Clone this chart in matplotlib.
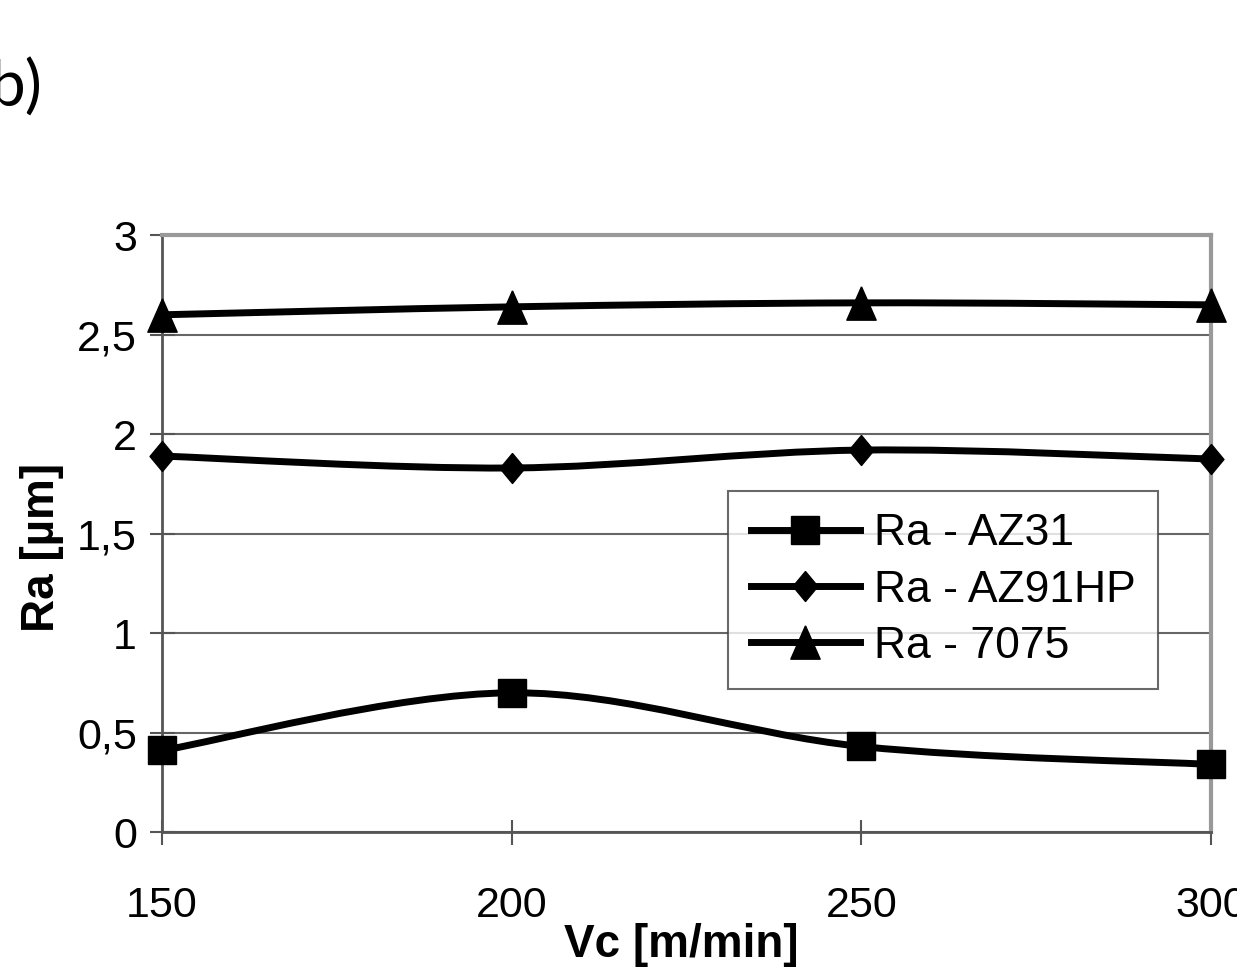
import matplotlib
matplotlib.use("Agg")
import matplotlib.pyplot as plt
from matplotlib.path import Path
from matplotlib.patches import PathPatch
from matplotlib.lines import Line2D

# data
vc = [150, 200, 250, 300]
ra_az31 = [0.41, 0.70, 0.43, 0.34]
ra_az91hp = [1.89, 1.83, 1.92, 1.875]
ra_7075 = [2.60, 2.64, 2.66, 2.65]
series_labels = ["Ra - AZ31", "Ra - AZ91HP", "Ra - 7075"]
y_ticks = [0, 0.5, 1, 1.5, 2, 2.5, 3]
y_tick_labels = ["0", "0,5", "1", "1,5", "2", "2,5", "3"]
x_ticks = [150, 200, 250, 300]

plt.rcParams['font.family'] = ['Liberation Sans', 'DejaVu Sans']

# diamond and triangle shapes like the excel markers
diamond = [(0, 1), (0.83, 0), (0, -1), (-0.83, 0), (0, 1)]
triangle = [(0, 1), (0.88, -1), (-0.88, -1), (0, 1)]
markers = ['s', diamond, triangle]
msizes = [20, 21.6, 24]


def smooth_path(x, y):
    # excel-style smoothed line: cubic bezier between the points
    px = [x[0]] + list(x) + [x[-1]]
    py = [y[0]] + list(y) + [y[-1]]
    verts = [(x[0], y[0])]
    codes = [Path.MOVETO]
    for i in range(1, len(x)):
        a, b = i, i + 1  # indexes in padded lists
        c1 = (px[a] + (px[b] - px[a - 1]) / 6, py[a] + (py[b] - py[a - 1]) / 6)
        c2 = (px[b] - (px[b + 1] - px[a]) / 6, py[b] - (py[b + 1] - py[a]) / 6)
        verts += [c1, c2, (px[b], py[b])]
        codes += [Path.CURVE4] * 3
    return Path(verts, codes)


fig = plt.figure(figsize=(12.37, 9.72), dpi=100)
ax = fig.add_axes([0.131, 0.144, 0.848, 0.614])

for ys, m, ms in zip([ra_az31, ra_az91hp, ra_7075], markers, msizes):
    ax.add_patch(PathPatch(smooth_path(vc, ys), fill=False, edgecolor='black',
                           lw=5, capstyle='butt', joinstyle='round', zorder=3, clip_on=False))
    ax.plot(vc, ys, ls='none', marker=m, ms=ms, color='black', zorder=4, clip_on=False)

ax.set_xlim(150, 300)
ax.set_ylim(0, 3)
ax.set_xticks(x_ticks)
ax.set_yticks(y_ticks)
ax.set_yticklabels(y_tick_labels)
ax.tick_params(axis='both', labelsize=31, direction='inout', length=18, width=1.5, colors='#555555',
               labelcolor='black')
ax.tick_params(axis='x', pad=30)
ax.tick_params(axis='y', pad=9)
ax.grid(axis='y', color='#666666', lw=1.5)
ax.set_axisbelow(True)

for s in ['top', 'right']:
    ax.spines[s].set_color('#999999')
    ax.spines[s].set_linewidth(3)
for s in ['left', 'bottom']:
    ax.spines[s].set_color('#555555')
    ax.spines[s].set_linewidth(2)

ax.set_xlabel("Vc [m/min]", fontsize=33, fontweight='bold')
ax.xaxis.set_label_coords(0.495, -0.152)
ax.set_ylabel("Ra [µm]", fontsize=33, fontweight='bold')
ax.yaxis.set_label_coords(-0.093, 0.477)

handles = [Line2D([], [], color='black', lw=5, marker=m, ms=ms) for m, ms in zip(markers, msizes)]
leg = ax.legend(handles, series_labels, loc='upper left', bbox_to_anchor=(0.540, 0.571),
                borderaxespad=0, fontsize=32, frameon=True, fancybox=False,
                handlelength=2.45, handletextpad=0.32, labelspacing=0.34, borderpad=0.5)
leg.get_frame().set_edgecolor('#444444')
leg.get_frame().set_linewidth(1.5)
leg.set_zorder(5)

fig.text(42 / 1237, 1 - 88 / 972, "b)", fontsize=46, family=['Lato', 'DejaVu Sans'],
         ha='right', va='center')

fig.savefig("out.png", dpi=100)
